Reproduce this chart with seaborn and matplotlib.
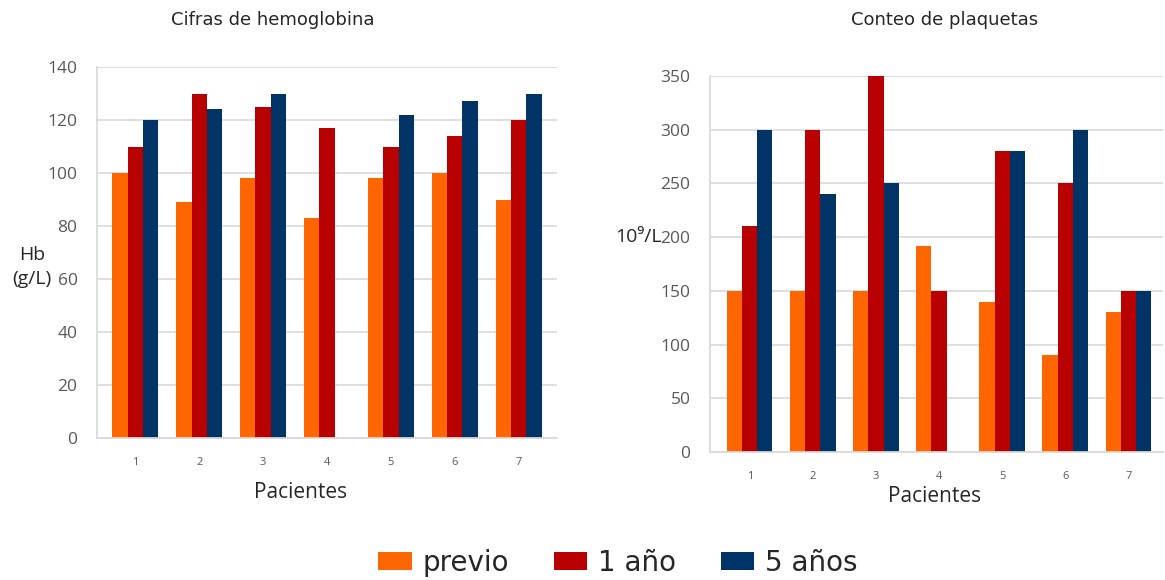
import numpy as np
import pandas as pd
import matplotlib
matplotlib.use("Agg")
import matplotlib.pyplot as plt
import seaborn as sns
from matplotlib.patches import Patch
from matplotlib.font_manager import FontProperties

pacientes = ["1", "2", "3", "4", "5", "6", "7"]
series = ["previo", "1 año", "5 años"]
hb_previo = [100, 89, 98, 83, 98, 100, 90]
hb_1 = [110, 130, 125, 117, 110, 114, 120]
hb_5 = [120, 124, 130, np.nan, 122, 127, 130]
pl_previo = [150, 150, 150, 192, 140, 90, 130]
pl_1 = [210, 300, 350, 150, 280, 250, 150]
pl_5 = [300, 240, 250, np.nan, 280, 300, 150]
colors = ["#FF6600", "#B80000", "#003366"]

def long(a, b, c):
    rows = []
    for s, vals in zip(series, [a, b, c]):
        for p, v in zip(pacientes, vals):
            rows.append({"Paciente": p, "Serie": s, "Valor": v})
    return pd.DataFrame(rows)

sns.set_theme(style="white")
plt.rcParams['font.family'] = ['Open Sans', 'DejaVu Sans']

fig = plt.figure(figsize=(11.65, 5.8), dpi=100)
W, H = 1165, 580
def ax_at(x0, x1, ytop, ybot):
    return fig.add_axes([x0 / W, 1 - ybot / H, (x1 - x0) / W, (ybot - ytop) / H])

ax1 = ax_at(97, 557, 67, 438)
ax2 = ax_at(710, 1163, 76, 452)

def draw(ax, df, ymax, step, xlim):
    sns.barplot(data=df, x="Paciente", y="Valor", hue="Serie", hue_order=series,
                palette=colors, width=0.72, ax=ax, legend=False, saturation=1,
                edgecolor="none", errorbar=None)
    ax.set_ylim(0, ymax)
    ax.set_yticks(np.arange(0, ymax + 1, step))
    ax.set_xlim(*xlim)
    ax.grid(axis="y", color="#d9d9d9", linewidth=1.2)
    ax.set_axisbelow(True)
    for s in ["top", "right"]:
        ax.spines[s].set_visible(False)
    for s in ["left", "bottom"]:
        ax.spines[s].set_color("#d9d9d9")
    ax.tick_params(axis="y", labelsize=12.5, colors="#595959", length=0, pad=14)
    ax.tick_params(axis="x", labelsize=8, colors="#595959", length=0, pad=14)
    ax.set_xlabel("")
    ax.set_ylabel("")

draw(ax1, long(hb_previo, hb_1, hb_5), 140, 20, (-0.6, 6.6))
draw(ax2, long(pl_previo, pl_1, pl_5), 350, 50, (-0.63, 6.55))

tfam = ["DejaVu Sans"]
fig.text(273 / W, 1 - 20 / H, "Cifras de hemoglobina", ha="center", va="center", fontsize=13, family=tfam)
fig.text(945 / W, 1 - 20 / H, "Conteo de plaquetas", ha="center", va="center", fontsize=13, family=tfam)
fig.text(301 / W, 1 - 492 / H, "Pacientes", ha="center", va="center", fontsize=15)
fig.text(935 / W, 1 - 497 / H, "Pacientes", ha="center", va="center", fontsize=15)
fig.text(32 / W, 1 - 267 / H, "Hb\n(g/L)", ha="center", va="center", fontsize=14, linespacing=1.5)
fig.text(638 / W, 1 - 237 / H, "10⁹/L", ha="center", va="center", fontsize=14)

handles = [Patch(facecolor=c, edgecolor="none") for c in colors]
fp = FontProperties(family="DejaVu Sans", size=20)
fig.legend(handles, series, loc="center", bbox_to_anchor=(618 / W, 1 - 563 / H), ncol=3,
           frameon=False, prop=fp, handlelength=1.2, handleheight=0.6,
           columnspacing=1.6, handletextpad=0.4)

fig.savefig("out.png", dpi=100)
